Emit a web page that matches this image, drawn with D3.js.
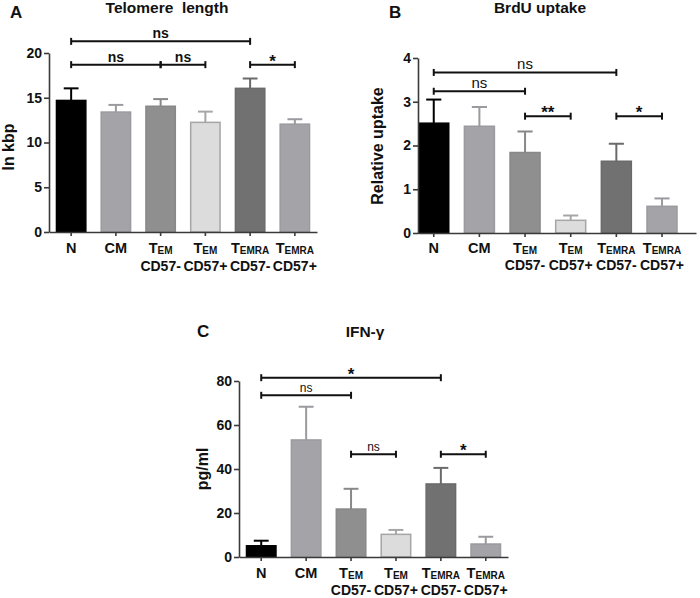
<!DOCTYPE html>
<html>
<head>
<meta charset="utf-8">
<script src="https://cdn.jsdelivr.net/npm/d3@7"></script>
<style>
body { margin: 0; background: #fff; }
text { font-family: "Liberation Sans", Arial, Helvetica, sans-serif; }
</style>
</head>
<body>
<svg id="main_svg" width="700" height="598"></svg>
<script>
// Categories (main letter, subscript, second line)
const catMain = ['N', 'CM', 'T', 'T', 'T', 'T'];
const catSub = ['', '', 'EM', 'EM', 'EMRA', 'EMRA'];
const catLine2 = ['', '', 'CD57-', 'CD57+', 'CD57-', 'CD57+'];

// A - telomere length (kbp)
const telomereMean = [14.7, 13.4, 14.05, 12.25, 16.05, 12.05];
const telomereErr = [1.35, 0.8, 0.8, 1.2, 1.1, 0.55];
const telomereTicks = [0, 5, 10, 15, 20];
// [from, to, label, height]
const telomereSig = [[0, 4, 'ns', 21.3], [0, 2, 'ns', 18.7], [2, 3, 'ns', 18.7], [4, 5, '*', 18.7]];

// B - BrdU uptake
const brduMean = [2.51, 2.44, 1.84, 0.29, 1.64, 0.61];
const brduErr = [0.54, 0.44, 0.48, 0.11, 0.4, 0.18];
const brduTicks = [0, 1, 2, 3, 4];
const brduSig = [[0, 4, 'ns', 3.67], [0, 2, 'ns', 3.24], [2, 3, '**', 2.67], [4, 5, '*', 2.67]];

// C - IFN-gamma (pg/ml)
const ifnMean = [5.1, 53.2, 21.8, 10.3, 33.2, 5.9];
const ifnErr = [2.3, 15.1, 9.2, 2.0, 7.3, 3.3];
const ifnTicks = [0, 20, 40, 60, 80];
const ifnSig = [[0, 4, '*', 81.5], [0, 2, 'ns', 73.5], [2, 3, 'ns', 46.7], [4, 5, '*', 46.7]];

const barFill = ['#000000', '#a3a3a8', '#8f8f8f', '#dcdcdc', '#717171', '#a3a3a8'];
const barStroke = ['#000000', '#9a9a9f', '#888888', '#a6a6a6', '#6a6a6a', '#9a9a9f'];

const panels = [
	{letter: 'A', title: 'Telomere  length', yLabel: 'ln kbp', mean: telomereMean, err: telomereErr,
		ticks: telomereTicks, sig: telomereSig, x0: 49, x1: 317, y0: 232, y1: 53, align: 0.5, outer: 0.15,
		letterPos: [10, 18], titlePos: [167, 13], yLabelX: 14, yLabelY: 147, nsWeight: 'bold', nsSize: 14,
		labelY: 253, line2Y: 271},
	{letter: 'B', title: 'BrdU uptake', yLabel: 'Relative uptake', mean: brduMean, err: brduErr,
		ticks: brduTicks, sig: brduSig, x0: 418, x1: 696, y0: 233, y1: 58, align: 0, outer: 0.2,
		letterPos: [389, 18], titlePos: [540, 13], yLabelX: 383, yLabelY: 146, nsWeight: 'normal', nsSize: 15,
		labelY: 253, line2Y: 270},
	{letter: 'C', title: 'IFN-γ', yLabel: 'pg/ml', mean: ifnMean, err: ifnErr,
		ticks: ifnTicks, sig: ifnSig, x0: 239, x1: 508, y0: 557, y1: 381, align: 0.5, outer: 0.15,
		letterPos: [197, 337], titlePos: [365, 337], yLabelX: 208, yLabelY: 469, nsWeight: 'normal', nsSize: 12,
		labelY: 578, line2Y: 595}
];

const svg = d3.select('#main_svg');

const draw_panel = (p) => {
	const g = svg.append('g');
	const idx = d3.range(catMain.length);

	const x = d3.scaleBand()
		.domain(idx)
		.range([p.x0, p.x1])
		.paddingInner(0.31)
		.paddingOuter(p.outer)
		.align(p.align);

	const y = d3.scaleLinear()
		.domain([0, p.ticks[p.ticks.length - 1]])
		.range([p.y0, p.y1]);

	// bars
	g.selectAll('.bar')
		.data(idx)
		.enter()
		.append('rect')
		.attr('class', 'bar')
		.attr('x', i => x(i) + 0.75)
		.attr('width', x.bandwidth() - 1.5)
		.attr('y', i => y(p.mean[i]))
		.attr('height', i => y(0) - y(p.mean[i]))
		.attr('fill', i => barFill[i])
		.attr('stroke', i => barStroke[i])
		.attr('stroke-width', 1.5);

	// error bars (upper only)
	const cap = x.bandwidth() * 0.24;
	const eb = g.selectAll('.err').data(idx).enter().append('g').attr('class', 'err')
		.attr('stroke', i => barStroke[i]).attr('stroke-width', 2);
	eb.append('line')
		.attr('x1', i => x(i) + x.bandwidth() / 2)
		.attr('x2', i => x(i) + x.bandwidth() / 2)
		.attr('y1', i => y(p.mean[i]))
		.attr('y2', i => y(p.mean[i] + p.err[i]));
	eb.append('line')
		.attr('x1', i => x(i) + x.bandwidth() / 2 - cap)
		.attr('x2', i => x(i) + x.bandwidth() / 2 + cap)
		.attr('y1', i => y(p.mean[i] + p.err[i]))
		.attr('y2', i => y(p.mean[i] + p.err[i]));

	// y axis
	const ya = g.append('g')
		.attr('transform', `translate(${p.x0},0)`)
		.call(d3.axisLeft(y).tickValues(p.ticks).tickFormat(d3.format('d'))
			.tickSize(5).tickSizeOuter(0).tickPadding(2));
	ya.selectAll('path, line').attr('stroke', '#3a3a3a').attr('stroke-width', 1.6);
	ya.selectAll('text')
		.attr('font-size', '14px')
		.attr('font-weight', 'bold')
		.attr('fill', '#111')
		.style('font-family', '"Liberation Sans", Arial, sans-serif');

	// x axis
	const xa = g.append('g')
		.attr('transform', `translate(0,${p.y0})`)
		.call(d3.axisBottom(x).tickSize(4).tickSizeOuter(0).tickFormat(''));
	xa.selectAll('path, line').attr('stroke', '#3a3a3a').attr('stroke-width', 1.6);

	// x labels
	const lab = g.selectAll('.xlab').data(idx).enter().append('text')
		.attr('class', 'xlab')
		.attr('x', i => x(i) + x.bandwidth() / 2)
		.attr('y', p.labelY)
		.attr('text-anchor', 'middle')
		.attr('font-size', '14.5px')
		.attr('font-weight', 'bold')
		.attr('fill', '#111');
	lab.append('tspan').text(i => catMain[i]);
	lab.append('tspan').attr('font-size', '10px').attr('dy', 1).text(i => catSub[i]);

	g.selectAll('.xlab2').data(idx.filter(i => catLine2[i])).enter().append('text')
		.attr('class', 'xlab2')
		.attr('x', i => x(i) + x.bandwidth() / 2)
		.attr('y', p.line2Y)
		.attr('text-anchor', 'middle')
		.attr('font-size', '14px')
		.attr('font-weight', 'bold')
		.attr('fill', '#111')
		.text(i => catLine2[i]);

	// significance brackets
	const sg = g.selectAll('.sig').data(p.sig).enter().append('g').attr('class', 'sig');
	const cx = i => x(i) + x.bandwidth() / 2;
	sg.append('line')
		.attr('x1', d => cx(d[0])).attr('x2', d => cx(d[1]))
		.attr('y1', d => y(d[3])).attr('y2', d => y(d[3]))
		.attr('stroke', '#111').attr('stroke-width', 2);
	[0, 1].forEach(k => {
		sg.append('line')
			.attr('x1', d => cx(d[k])).attr('x2', d => cx(d[k]))
			.attr('y1', d => y(d[3]) - 3.5).attr('y2', d => y(d[3]) + 3.5)
			.attr('stroke', '#111').attr('stroke-width', 2);
	});
	sg.append('text')
		.attr('x', d => (cx(d[0]) + cx(d[1])) / 2)
		.attr('y', d => d[2] === 'ns' ? y(d[3]) - 3 : y(d[3]) + 2)
		.attr('text-anchor', 'middle')
		.attr('fill', '#111')
		.attr('font-size', d => d[2] === 'ns' ? p.nsSize + 'px' : '17px')
		.attr('font-weight', d => d[2] === 'ns' ? p.nsWeight : 'bold')
		.text(d => d[2]);

	// titles
	g.append('text')
		.attr('x', p.letterPos[0]).attr('y', p.letterPos[1])
		.attr('font-size', '17px').attr('font-weight', 'bold').attr('fill', '#111')
		.text(p.letter);
	g.append('text')
		.attr('x', p.titlePos[0]).attr('y', p.titlePos[1])
		.attr('text-anchor', 'middle')
		.style('white-space', 'pre')
		.attr('font-size', '15.5px').attr('font-weight', 'bold').attr('fill', '#111')
		.text(p.title);
	g.append('text')
		.attr('transform', `translate(${p.yLabelX},${p.yLabelY}) rotate(-90)`)
		.attr('text-anchor', 'middle')
		.attr('font-size', '16px').attr('font-weight', 'bold').attr('fill', '#111')
		.text(p.yLabel);
};

panels.forEach(draw_panel);
</script>
</body>
</html>
